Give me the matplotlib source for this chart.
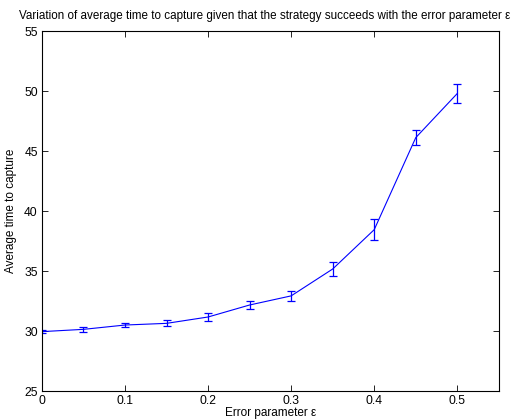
import matplotlib
matplotlib.use("Agg")
import matplotlib.pyplot as plt

plt.rcParams["font.family"] = ["Liberation Sans", "DejaVu Sans"]

# error parameter values and measured capture times (mean +/- error)
epsilon = [0, 0.05, 0.1, 0.15, 0.2, 0.25, 0.3, 0.35, 0.4, 0.45, 0.5]
avg_time = [29.95, 30.14, 30.5, 30.64, 31.17, 32.17, 32.93, 35.17, 38.45, 46.12, 49.8]
err = [0.15, 0.18, 0.2, 0.25, 0.3, 0.36, 0.4, 0.6, 0.87, 0.62, 0.78]

fig = plt.figure(figsize=(5.24, 4.2), dpi=100)
ax = fig.add_axes([0.080, 0.069, 0.872, 0.857])

ax.errorbar(epsilon, avg_time, yerr=err, color="blue", linewidth=0.8,
            elinewidth=0.9, capsize=3, capthick=0.9)

ax.set_xlim(0, 0.55)
ax.set_ylim(25, 55)
ax.set_xticks([0, 0.1, 0.2, 0.3, 0.4, 0.5])
ax.set_xticklabels(["0", "0.1", "0.2", "0.3", "0.4", "0.5"])
ax.set_yticks(range(25, 56, 5))
ax.tick_params(direction="in", top=True, right=True, length=4, width=0.6,
               labelsize=8.7, pad=3)
for s in ax.spines.values():
    s.set_linewidth(0.8)

ax.set_xlabel("Error parameter ε", fontsize=8.5, labelpad=0)
ax.set_ylabel("Average time to capture", fontsize=8.5, labelpad=5)
# long title: anchor it near the left edge so it fits the figure width
fig.text(0.036, 0.962, "Variation of average time to capture given that the "
         "strategy succeeds with the error parameter ε", fontsize=8.35,
         ha="left", va="center")

fig.savefig("out.png", dpi=100)
